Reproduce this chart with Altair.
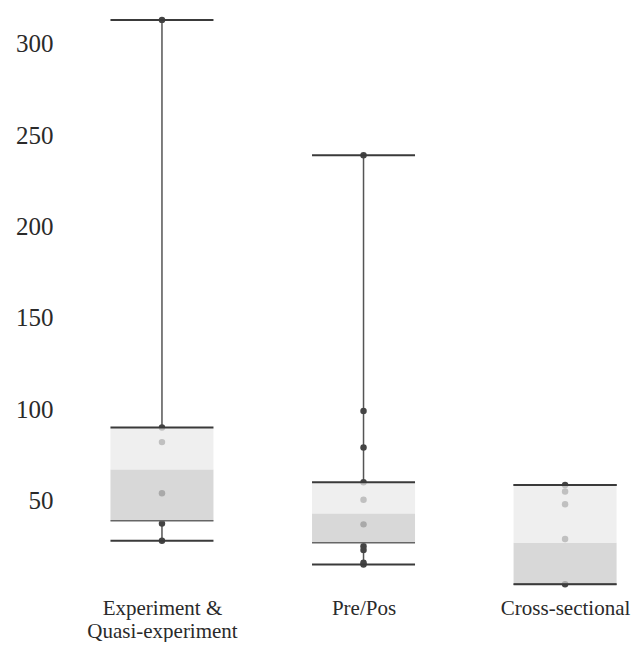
import altair as alt
import pandas as pd

categories = ["Experiment & Quasi-experiment", "Pre/Pos", "Cross-sectional"]
mins = [28, 15, 4.3]
q1s = [39, 27, 4.3]
medians = [67, 43, 27]
q3s = [90, 60, 58.6]
maxs = [313, 239, 58.6]

point_groups = [
    [313, 90, 82, 54, 37.5, 28],
    [239, 99, 79, 60, 50.5, 37, 25, 23, 16, 15],
    [58.6, 55, 48, 29, 4.3],
]

y_ticks = [50, 100, 150, 200, 250, 300]

stats = pd.DataFrame({
    "cat": categories, "min": mins, "q1": q1s, "median": medians,
    "q3": q3s, "max": maxs,
})
pts = pd.DataFrame(
    [{"cat": c, "v": v} for c, vals in zip(categories, point_groups) for v in vals]
)

FONT = "Liberation Serif"
x_enc = alt.X(
    "cat:N", sort=categories, title=None,
    scale=alt.Scale(type="point", padding=0.414, align=0.611),
    axis=alt.Axis(
        domain=False, ticks=False, labelAngle=0, labelFont=FONT, labelFontSize=21,
        labelColor="#2a2a2a", labelPadding=5, labelLineHeight=23,
        labelExpr="datum.label == 'Experiment & Quasi-experiment' ? ['Experiment &', 'Quasi-experiment'] : datum.label",
    ),
)
y_scale = alt.Scale(domain=[0, 319.5], nice=False, zero=False)
y_axis = alt.Axis(
    values=y_ticks, domain=False, ticks=False, grid=False, labelFont=FONT,
    labelFontSize=25, labelColor="#2a2a2a", labelPadding=7,
)

base = alt.Chart(stats)

whisker_top = base.mark_rule(color="#555", strokeWidth=1.5).encode(
    x=x_enc, y=alt.Y("q3:Q", scale=y_scale, axis=y_axis, title=None), y2="max:Q"
)
whisker_bottom = base.mark_rule(color="#555", strokeWidth=1.5).encode(
    x=x_enc, y=alt.Y("min:Q", scale=y_scale), y2="q1:Q"
)
dots = alt.Chart(pts).mark_circle(size=42, color="#444", opacity=1).encode(
    x=x_enc, y=alt.Y("v:Q", scale=y_scale)
)
lower_box = base.mark_bar(size=103, color="#cbcbcb", opacity=0.75).encode(
    x=x_enc, y=alt.Y("q1:Q", scale=y_scale), y2="median:Q"
)
upper_box = base.mark_bar(size=103, color="#e9e9e9", opacity=0.75).encode(
    x=x_enc, y=alt.Y("median:Q", scale=y_scale), y2="q3:Q"
)
tick_style = dict(size=103, thickness=2, color="#3a3a3a", opacity=1)
cap_max = base.mark_tick(**tick_style).encode(x=x_enc, y=alt.Y("max:Q", scale=y_scale))
cap_min = base.mark_tick(**tick_style).encode(x=x_enc, y=alt.Y("min:Q", scale=y_scale))
line_q3 = base.mark_tick(**tick_style).encode(x=x_enc, y=alt.Y("q3:Q", scale=y_scale))
line_q1 = base.mark_tick(size=103, thickness=1.5, color="#666", opacity=1).encode(
    x=x_enc, y=alt.Y("q1:Q", scale=y_scale)
)

chart = alt.layer(
    whisker_top, whisker_bottom, dots, lower_box, upper_box,
    line_q1, line_q3, cap_min, cap_max
).properties(
    width=570, height=584,
    autosize=alt.AutoSizeParams(type="none"),
    padding={"left": 52, "top": 0, "right": 4, "bottom": 50},
).configure_view(stroke=None)

chart.save("out.html", embed_options={"renderer": "svg", "actions": False})
